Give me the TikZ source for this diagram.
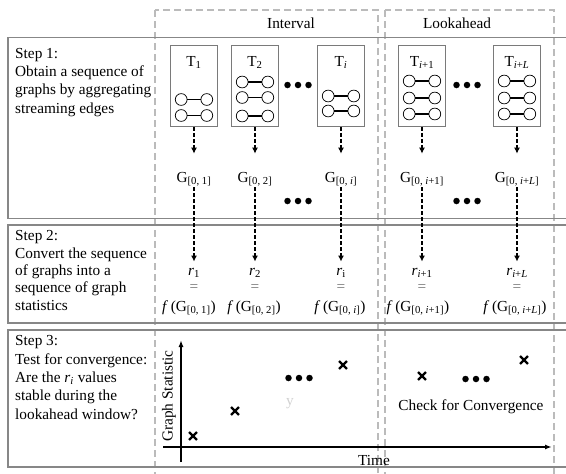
\documentclass[tikz,border=0pt]{standalone}
\usepackage{fontspec}
\setmainfont{Liberation Serif}
\usepackage{tikz}
\usepackage{xcolor}
\usetikzlibrary{arrows.meta,shapes.misc}

\definecolor{frame-gray}{HTML}{878787}
\definecolor{window-gray}{HTML}{BBBBBB}
\definecolor{slice-gray}{HTML}{7A7A7A}

\tikzset{
    step-box/.style = {draw=frame-gray, line width=1.6pt},
    window-box/.style = {draw=window-gray, line width=1.4pt, dash pattern=on 7pt off 4pt},
    slice-box/.style = {draw=slice-gray, line width=0.9pt, rectangle, minimum width=47pt, minimum height=81pt, inner sep=0pt},
    vertex/.style = {draw, circle, line width=0.7pt, minimum size=11.8pt, inner sep=0pt},
    link/.style = {line width=1.3pt},
    flow/.style = {line width=1.8pt, dash pattern=on 4pt off 2pt, -{Latex[length=6pt,width=6pt]}},
    axis/.style = {line width=1.4pt, -{Latex[length=7pt,width=5pt]}},
    step-text/.style = {align=left, anchor=base west, inner sep=0pt, font=\fontsize{15.3}{18.3}\selectfont},
    tag/.style = {anchor=base, inner sep=1pt, font=\fontsize{15.3}{18}\selectfont},
    big-dot/.style = {circle, fill, inner sep=0pt, minimum size=6.5pt},
    stat-mark/.style = {cross out, draw, line width=2.4pt, inner sep=0pt, minimum size=5.5pt},
}

% two vertices joined by one edge: name, centre x, y
\newcommand{\edgepair}[3]{%
    \node[vertex] (#1-a) at (#2-12.8,#3) {};
    \node[vertex] (#1-b) at (#2+12.8,#3) {};
    \draw[link] (#1-a) -- (#1-b);
}
% three big dots: name, centre x, y
\newcommand{\dotrow}[3]{%
    \node[big-dot] (#1-a) at (#2-10.5,#3) {};
    \node[big-dot] (#1-b) at (#2,#3) {};
    \node[big-dot] (#1-c) at (#2+10.5,#3) {};
}

\begin{document}
\begin{tikzpicture}[x=1pt, y=-1pt]
\useasboundingbox (0,0) rectangle (566,474);

% windows
\draw[window-box] (155,10) rectangle (378,482);
\draw[window-box] (385,10) rectangle (554,482);
\node[tag] (interval) at (291,28) {Interval};
\node[tag] (lookahead) at (457,28) {Lookahead};

% steps (base anchor sits on the last line)
\draw[step-box] (8,37.5) rectangle (572,218.5);
\draw[step-box] (8,225) rectangle (572,323);
\draw[step-box] (8,330) rectangle (572,467);
\node[step-text] (step1) at (15,113) {Step 1:\\Obtain a sequence of\\graphs by aggregating\\streaming edges};
\node[step-text, font=\fontsize{15.3}{17.3}\selectfont] (step2) at (15,310) {Step 2:\\Convert the sequence\\of graphs into a\\sequence of graph\\statistics};
\node[step-text] (step3) at (15,419) {Step 3:\\Test for convergence:\\Are the \textit{r}\textsubscript{\textit{i}} values\\stable during the\\lookahead window?};

% streaming slices
\node[slice-box] (t1) at (194,86) {};
\node[slice-box] (t2) at (255,86) {};
\node[slice-box] (ti) at (341,86) {};
\node[slice-box] (ti1) at (422,86) {};
\node[slice-box] (tiL) at (517,86) {};
\node[tag] (t1-title) at (194,66.5) {T\textsubscript{1}};
\node[tag] (t2-title) at (255,66.5) {T\textsubscript{2}};
\node[tag] (ti-title) at (341,66.5) {T\textsubscript{\textit{i}}};
\node[tag] (ti1-title) at (422,66.5) {T\textsubscript{\textit{i}+1}};
\node[tag] (tiL-title) at (517,66.5) {T\textsubscript{\textit{i}+\textit{L}}};
\edgepair{t1-e1}{194}{99.5}
\edgepair{t1-e2}{194}{115.5}
\edgepair{t2-e1}{255}{82}
\edgepair{t2-e2}{255}{97.5}
\edgepair{t2-e3}{255}{116}
\edgepair{ti-e1}{341}{96}
\edgepair{ti-e2}{341}{111}
\edgepair{ti1-e1}{422}{81}
\edgepair{ti1-e2}{422}{98}
\edgepair{ti1-e3}{422}{114}
\edgepair{tiL-e1}{517}{81}
\edgepair{tiL-e2}{517}{98}
\edgepair{tiL-e3}{517}{114}
\dotrow{gap-top-a}{298}{85}
\dotrow{gap-top-b}{467}{85}

% aggregated graphs
\node[tag] (g1) at (194,182) {G\textsubscript{[0, 1]}};
\node[tag] (g2) at (255,182) {G\textsubscript{[0, 2]}};
\node[tag] (gi) at (341,182) {G\textsubscript{[0, \textit{i}]}};
\node[tag] (gi1) at (422,182) {G\textsubscript{[0, \textit{i}+1]}};
\node[tag] (giL) at (517,182) {G\textsubscript{[0, \textit{i}+\textit{L}]}};
\dotrow{gap-low-a}{298}{201}
\dotrow{gap-low-b}{467}{201}

% graph statistics
\node[tag] (r1) at (194,275) {\textit{r}\textsubscript{1}};
\node[tag] (r2) at (255,275) {\textit{r}\textsubscript{2}};
\node[tag] (ri) at (341,275) {\textit{r}\textsubscript{i}};
\node[tag] (ri1) at (422,275) {\textit{r}\textsubscript{\textit{i}+1}};
\node[tag] (riL) at (517,275) {\textit{r}\textsubscript{\textit{i}+\textit{L}}};
\node[tag, text=black!55] (eq1) at (194,291) {=};
\node[tag, text=black!55] (eq2) at (255,291) {=};
\node[tag, text=black!55] (eqi) at (341,291) {=};
\node[tag, text=black!55] (eqi1) at (422,291) {=};
\node[tag, text=black!55] (eqiL) at (517,291) {=};
\node[tag] (f1) at (189,311) {\textit{f}\,(G\textsubscript{[0, 1]})};
\node[tag] (f2) at (254,311) {\textit{f}\,(G\textsubscript{[0, 2]})};
\node[tag] (fi) at (340,311) {\textit{f}\,(G\textsubscript{[0, \textit{i}]})};
\node[tag] (fi1) at (418,311) {\textit{f}\,(G\textsubscript{[0, \textit{i}+1]})};
\node[tag] (fiL) at (515,311) {\textit{f}\,(G\textsubscript{[0, \textit{i}+\textit{L}]})};

\draw[flow, shorten >=17pt] (t1) -- (g1);
\draw[flow, shorten >=17pt] (t2) -- (g2);
\draw[flow, shorten >=17pt] (ti) -- (gi);
\draw[flow, shorten >=17pt] (ti1) -- (gi1);
\draw[flow, shorten >=17pt] (tiL) -- (giL);
\draw[flow, shorten >=5pt] (g1) -- (r1);
\draw[flow, shorten >=5pt] (g2) -- (r2);
\draw[flow, shorten >=5pt] (gi) -- (ri);
\draw[flow, shorten >=5pt] (gi1) -- (ri1);
\draw[flow, shorten >=5pt] (giL) -- (riL);

% convergence plot
\coordinate (y-foot) at (181,462);
\coordinate (y-top) at (181,340);
\coordinate (x-start) at (163,447);
\coordinate (x-end) at (552,447);
\draw[axis] (y-foot) -- (y-top);
\draw[axis] (x-start) -- (x-end);
\node[tag, anchor=center, rotate=90] (y-label) at (169,396) {Graph Statistic};
\node[tag] (x-label) at (374,465) {Time};
\node[stat-mark] (s1) at (193,436) {};
\node[stat-mark] (s2) at (235,411) {};
\node[stat-mark] (si) at (343,365) {};
\node[stat-mark] (si1) at (422,376) {};
\node[stat-mark] (siL) at (524,360) {};
\dotrow{plot-a}{299}{378}
\dotrow{plot-b}{476}{379}
\node[tag, text=black!18] (ghost) at (290,405) {y};
\node[tag] (check) at (471,410) {Check for Convergence};
\end{tikzpicture}
\end{document}
